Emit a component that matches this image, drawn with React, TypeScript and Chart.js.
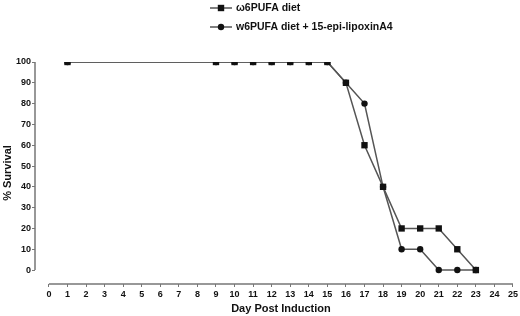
import React, { useEffect, useRef } from "react";
import { Chart, registerables } from "chart.js";

Chart.register(...registerables);

const days = [1, 9, 10, 11, 12, 13, 14, 15, 16, 17, 18, 19, 20, 21, 22, 23];
const omega6Diet = [100, 100, 100, 100, 100, 100, 100, 100, 90, 60, 40, 20, 20, 20, 10, 0];
const omega6Lipoxin = [100, 100, 100, 100, 100, 100, 100, 100, 90, 80, 40, 10, 10, 0, 0, 0];
const seriesLabels = ["ω6PUFA diet", "w6PUFA diet + 15-epi-lipoxinA4"];
const xTicks = Array.from({ length: 26 }, (_, i) => i);
const yTicks = [0, 10, 20, 30, 40, 50, 60, 70, 80, 90, 100];
const xTitle = "Day Post Induction";
const yTitle = "% Survival";

const FONT = "'Liberation Sans', Arial, sans-serif";

const axisLinesPlugin = {
  id: "axisLines",
  afterDraw(chart: any) {
    const { ctx, chartArea, scales } = chart;
    const x = scales.x;
    const y = scales.y;
    const xl = x.getPixelForValue(xTicks[0]);
    const xr = x.getPixelForValue(xTicks[xTicks.length - 1]);
    ctx.save();
    ctx.strokeStyle = "#777";
    ctx.lineWidth = 1.5;
    ctx.beginPath();
    ctx.moveTo(xl, chartArea.bottom);
    ctx.lineTo(xr, chartArea.bottom);
    ctx.moveTo(chartArea.left, y.getPixelForValue(yTicks[0]));
    ctx.lineTo(chartArea.left, y.getPixelForValue(yTicks[yTicks.length - 1]));
    ctx.stroke();
    ctx.fillStyle = "#111";
    ctx.font = `bold 11px ${FONT}`;
    ctx.textAlign = "center";
    ctx.textBaseline = "middle";
    ctx.fillText(xTitle, (xl + xr) / 2, x.bottom - 7);
    ctx.restore();
  },
};

const legendPlugin = {
  id: "vLegend",
  afterDraw(chart: any) {
    const { ctx } = chart;
    ctx.save();
    chart.data.datasets.forEach((ds: any, i: number) => {
      const cy = 8 + i * 19;
      const x0 = 210;
      const x1 = 232;
      ctx.strokeStyle = ds.borderColor;
      ctx.lineWidth = 1.5;
      ctx.beginPath();
      ctx.moveTo(x0, cy);
      ctx.lineTo(x1, cy);
      ctx.stroke();
      ctx.fillStyle = ds.pointBackgroundColor;
      const cx = (x0 + x1) / 2;
      if (ds.pointStyle === "rect") {
        ctx.fillRect(cx - 3.2, cy - 3.2, 6.4, 6.4);
      } else {
        ctx.beginPath();
        ctx.arc(cx, cy, 3.2, 0, Math.PI * 2);
        ctx.fill();
      }
      ctx.fillStyle = "#111";
      ctx.font = `bold 10.5px ${FONT}`;
      ctx.textBaseline = "middle";
      ctx.textAlign = "left";
      ctx.fillText(ds.label, x1 + 4, cy);
    });
    ctx.restore();
  },
};

export default function App() {
  const ref = useRef<HTMLCanvasElement | null>(null);

  useEffect(() => {
    document.body.style.margin = "0";
    const canvas = ref.current;
    if (!canvas) return;
    const chart = new Chart(canvas, {
      type: "line",
      data: {
        datasets: [
          {
            label: seriesLabels[0],
            data: days.map((d, i) => ({ x: d, y: omega6Diet[i] })),
            order: 0,
            clip: 0,
            borderColor: "#555",
            borderWidth: 1.5,
            pointStyle: "rect",
            pointRadius: 4.5,
            pointBackgroundColor: "#111",
            pointBorderColor: "#111",
            pointBorderWidth: 0,
          },
          {
            label: seriesLabels[1],
            data: days.map((d, i) => ({ x: d, y: omega6Lipoxin[i] })),
            order: 1,
            clip: 0,
            borderColor: "#555",
            borderWidth: 1.5,
            pointStyle: "circle",
            pointRadius: 3.2,
            pointBackgroundColor: "#111",
            pointBorderColor: "#111",
            pointBorderWidth: 0,
          },
        ],
      },
      options: {
        responsive: false,
        animation: false,
        layout: { padding: { top: 62, right: 5, left: 0, bottom: 0 } },
        plugins: { legend: { display: false }, tooltip: { enabled: false } },
        scales: {
          x: {
            type: "linear",
            min: -0.75,
            max: 25,
            afterBuildTicks: (s: any) => {
              s.ticks = xTicks.map((v) => ({ value: v }));
            },
            afterFit: (s: any) => {
              s.height = 32;
            },
            border: { display: false },
            grid: { drawOnChartArea: false, drawTicks: true, tickLength: 3, color: "#777", lineWidth: 1 },
            ticks: {
              autoSkip: false,
              maxRotation: 0,
              padding: 2,
              color: "#111",
              font: { family: FONT, size: 9, weight: "bold" },
            },
            title: { display: false, text: xTitle },
          },
          y: {
            min: -6.7,
            max: 100,
            afterBuildTicks: (s: any) => {
              s.ticks = yTicks.map((v) => ({ value: v }));
            },
            afterFit: (s: any) => {
              s.width = 35;
            },
            border: { display: false },
            grid: { drawOnChartArea: false, drawTicks: true, tickLength: 3, color: "#777", lineWidth: 1 },
            ticks: {
              padding: 1,
              color: "#111",
              font: { family: FONT, size: 9, weight: "bold" },
            },
            title: {
              display: true,
              text: yTitle,
              color: "#111",
              padding: { top: 1, bottom: 0 },
              font: { family: FONT, size: 11, weight: "bold" },
            },
          },
        },
      },
      plugins: [axisLinesPlugin, legendPlugin],
    } as any);
    return () => chart.destroy();
  }, []);

  return (
    <div style={{ position: "absolute", left: 0, top: 0, width: 520, height: 316, background: "#fff" }}>
      <canvas ref={ref} width={520} height={316} />
    </div>
  );
}
